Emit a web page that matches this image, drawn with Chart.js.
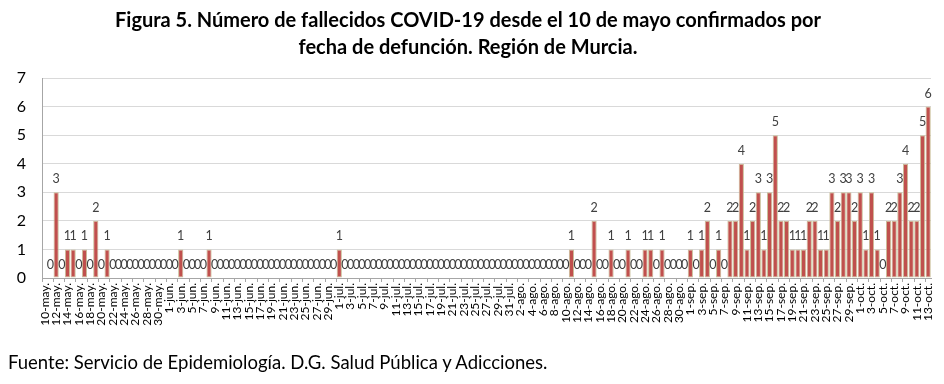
<!DOCTYPE html>
<html>
<head>
<meta charset="utf-8">
<script src="https://cdn.jsdelivr.net/npm/chart.js@4.4.1/dist/chart.umd.min.js"></script>
<style>
  body { margin: 0; background: #fff; }
  #wrap { position: relative; width: 944px; height: 384px; }
  #title { position: absolute; left: 0; top: 6px; width: 936px; text-align: center;
           font: bold 20px Lato, sans-serif; line-height: 27px; color: #000; }
  #source { position: absolute; left: 8px; top: 351px; font: 18.5px Lato, sans-serif; color: #000; }
</style>
</head>
<body>
<div id="wrap">
  <canvas id="myChart"></canvas>
  <div id="title">Figura 5. Número de fallecidos COVID-19 desde el 10 de mayo confirmados por<br>fecha de defunción. Región de Murcia.</div>
  <div id="source">Fuente: Servicio de Epidemiología. D.G. Salud Pública y Adicciones.</div>
</div>
<script>
	// meses: [abreviatura, primer dia, ultimo dia]
	const months = [['may.', 10, 31], ['jun.', 1, 30], ['jul.', 1, 31], ['ago.', 1, 31], ['sep.', 1, 30], ['oct.', 1, 13]];

	// fallecidos por dia, un array por mes
	const deathsMay = [null,0,3,0,1,1,0,1,0,2,0,1,0,0,0,0,0,0,0,0,0,0];
	const deathsJun = [0,0,1,0,0,0,0,1,0,0,0,0,0,0,0,0,0,0,0,0,0,0,0,0,0,0,0,0,0,0];
	const deathsJul = [1,0,0,0,0,0,0,0,0,0,0,0,0,0,0,0,0,0,0,0,0,0,0,0,0,0,0,0,0,0,0];
	const deathsAgo = [0,0,0,0,0,0,0,0,0,0,1,0,0,0,2,0,0,1,0,0,1,0,0,1,1,0,1,0,0,0,0];
	const deathsSep = [1,0,1,2,0,1,0,2,2,4,1,2,3,1,3,5,2,2,1,1,1,2,2,1,1,3,2,3,3,2];
	const deathsOct = [3,1,3,1,0,2,2,3,4,2,2,5,6];

	const yTicks = [0, 1, 2, 3, 4, 5, 6, 7];

	let days = [];
	months.forEach(([m, from, to]) => {
		for (let d = from; d <= to; d++) days.push(d + '-' + m);
	});
	const deaths = [].concat(deathsMay, deathsJun, deathsJul, deathsAgo, deathsSep, deathsOct);

	// etiquetas encima de las barras
	const valueLabels = {
		id: 'valueLabels',
		afterDatasetsDraw(chart) {
			const ctx = chart.ctx;
			const meta = chart.getDatasetMeta(0);
			ctx.save();
			ctx.font = '12.5px Lato';
			ctx.fillStyle = '#404040';
			ctx.textAlign = 'center';
			ctx.textBaseline = 'middle';
			meta.data.forEach((bar, i) => {
				if (deaths[i] === null) return;
				ctx.fillText(String(deaths[i]), bar.x, bar.y - 13);
			});
			ctx.restore();
		}
	};

	const ctx = document.querySelector('#myChart');
	const chart = new Chart(ctx, {
		type: 'bar',
		data: {
			labels: days,
			datasets: [{
				label: 'Fallecidos',
				data: deaths,
				backgroundColor: '#C0504D',
				borderColor: '#C9BE98',
				borderWidth: (c) => (c.raw ? 1 : 0),
				borderSkipped: false,
				barPercentage: 0.92,
				categoryPercentage: 1
			}]
		},
		options: {
			responsive: true,
			maintainAspectRatio: false,
			animation: false,
			layout: { padding: { top: 78, right: 13, left: 0, bottom: 0 } },
			plugins: { legend: { display: false }, tooltip: { enabled: false } },
			scales: {
				x: {
					afterFit: (s) => { s.height = 106; },
					grid: {
						drawOnChartArea: false,
						tickLength: 4,
						color: (c) => (c.index % 2 === 0 ? '#A6A6A6' : 'rgba(0,0,0,0)')
					},
					border: { color: '#A6A6A6' },
					ticks: {
						autoSkip: false,
						minRotation: 90,
						maxRotation: 90,
						padding: 1,
						color: '#000',
						font: { family: 'Lato', size: 12 },
						callback: (v, i) => (i % 2 === 0 ? days[i] : '')
					}
				},
				y: {
					min: yTicks[0],
					max: yTicks[yTicks.length - 1],
					afterFit: (s) => { s.width = 42; },
					grid: { color: '#D9D9D9', drawTicks: false },
					border: { color: '#A6A6A6' },
					ticks: {
						stepSize: 1,
						padding: 16,
						color: '#000',
						font: { family: 'Lato', size: 16 }
					}
				}
			}
		},
		plugins: [valueLabels]
	});
</script>
</body>
</html>
